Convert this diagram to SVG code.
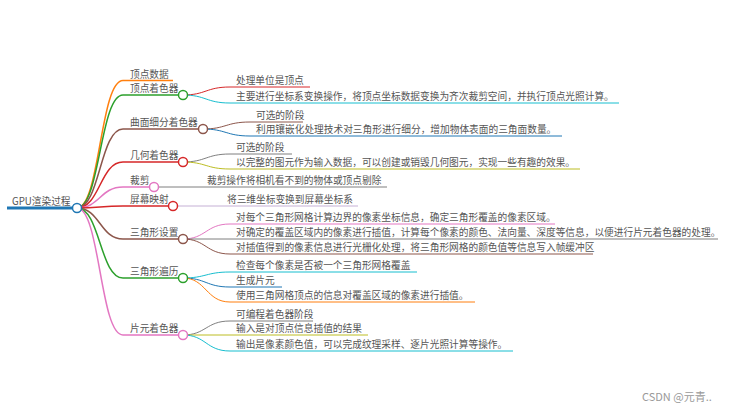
<svg xmlns="http://www.w3.org/2000/svg" width="744" height="412" viewBox="0 0 744 412">
<style>
text{font-family:"Noto Sans CJK SC","Liberation Sans",sans-serif;font-size:9.7px;fill:#555}
.l1{fill:none;stroke-width:1.5}
.l2{fill:none;stroke-width:1}
circle{fill:#fff;stroke-width:1.5}
.wm{font-size:11px;fill:#999}
</style>
<rect width="744" height="412" fill="#fff"/>
<g id="connectors">
<path d="M7,208H77" stroke="#1f77b4" stroke-width="3" fill="none"/>
<path class="l1" stroke="#ff7f0e" d="M77,208C100,208 100,80.5 123,80.5H173"/>
<path class="l1" stroke="#2ca02c" d="M77,208C100,208 100,95 123,95H179"/>
<path class="l1" stroke="#8c564b" d="M77,208C100,208 100,129 123,129H199"/>
<path class="l1" stroke="#d62728" d="M77,208C100,208 100,162 123,162H179"/>
<path class="l1" stroke="#e377c2" d="M77,208C100,208 100,187 123,187H150"/>
<path class="l1" stroke="#d62728" d="M77,208C100,208 100,206 123,206H169"/>
<path class="l1" stroke="#8c564b" d="M77,208C100,208 100,239 123,239H179"/>
<path class="l1" stroke="#2ca02c" d="M77,208C100,208 100,278 123,278H179"/>
<path class="l1" stroke="#e377c2" d="M77,208C100,208 100,335 123,335H179"/>
<path class="l2" stroke="#d62728" d="M183,95C206,95 206,87 230,87H310"/>
<path class="l2" stroke="#17becf" d="M183,95C206,95 206,103 230,103H619"/>
<path class="l2" stroke="#8c564b" d="M203,129C226,129 226,122 250,122H303"/>
<path class="l2" stroke="#1f77b4" d="M203,129C226,129 226,136 250,136H562"/>
<path class="l2" stroke="#7f7f7f" d="M183,162C206,162 206,154 230,154H292"/>
<path class="l2" stroke="#bcbd22" d="M183,162C206,162 206,169 230,169H580"/>
<path class="l2" stroke="#7f7f7f" d="M154,187H387"/>
<path class="l2" stroke="#c5b0d5" stroke-width="1.5" d="M173,206H358"/>
<path class="l2" stroke="#e377c2" d="M183,239C206,239 206,224 230,224H555"/>
<path class="l2" stroke="#7f7f7f" d="M183,239H718"/>
<path class="l2" stroke="#8c564b" d="M183,239C206,239 206,254 230,254H593"/>
<path class="l2" stroke="#17becf" d="M183,278C206,278 206,272 230,272H417"/>
<path class="l2" stroke="#1f77b4" d="M183,278C206,278 206,287 230,287H282"/>
<path class="l2" stroke="#ff7f0e" d="M183,278C206,278 206,302 230,302H475"/>
<path class="l2" stroke="#7f7f7f" d="M183,335C206,335 206,321 230,321H313"/>
<path class="l2" stroke="#bcbd22" d="M183,335H368"/>
<path class="l2" stroke="#17becf" d="M183,335C206,335 206,351 230,351H513"/>
</g>
<g id="root"><text x="12" y="205">GPU渲染过程</text><circle cx="77" cy="208" r="4.5" stroke="#1f77b4"/></g>
<g id="n1"><text x="130" y="77.5">顶点数据</text></g>
<g id="n2"><text x="130" y="92">顶点着色器</text><circle cx="183" cy="95" r="4.5" stroke="#2ca02c"/></g>
<g id="n3"><text x="130" y="126">曲面细分着色器</text><circle cx="203" cy="129" r="4.5" stroke="#8c564b"/></g>
<g id="n4"><text x="130" y="159">几何着色器</text><circle cx="183" cy="162" r="4.5" stroke="#d62728"/></g>
<g id="n5"><text x="130" y="184">裁剪</text><circle cx="154" cy="187" r="4.5" stroke="#e377c2"/></g>
<g id="n6"><text x="130" y="203">屏幕映射</text><circle cx="173" cy="206" r="4.5" stroke="#d62728"/></g>
<g id="n7"><text x="130" y="236">三角形设置</text><circle cx="183" cy="239" r="4.5" stroke="#8c564b"/></g>
<g id="n8"><text x="130" y="275">三角形遍历</text><circle cx="183" cy="278" r="4.5" stroke="#2ca02c"/></g>
<g id="n9"><text x="130" y="332">片元着色器</text><circle cx="183" cy="335" r="4.5" stroke="#e377c2"/></g>
<g id="n2a"><text x="236" y="84">处理单位是顶点</text></g>
<g id="n2b"><text x="236" y="100">主要进行坐标系变换操作，将顶点坐标数据变换为齐次裁剪空间，并执行顶点光照计算。</text></g>
<g id="n3a"><text x="256" y="119">可选的阶段</text></g>
<g id="n3b"><text x="256" y="133">利用镶嵌化处理技术对三角形进行细分，增加物体表面的三角面数量。</text></g>
<g id="n4a"><text x="236" y="151">可选的阶段</text></g>
<g id="n4b"><text x="236" y="166">以完整的图元作为输入数据，可以创建或销毁几何图元，实现一些有趣的效果。</text></g>
<g id="n5a"><text x="207" y="184">裁剪操作将相机看不到的物体或顶点剔除</text></g>
<g id="n6a"><text x="227" y="203">将三维坐标变换到屏幕坐标系</text></g>
<g id="n7a"><text x="236" y="221">对每个三角形网格计算边界的像素坐标信息，确定三角形覆盖的像素区域。</text></g>
<g id="n7b"><text x="236" y="236">对确定的覆盖区域内的像素进行插值，计算每个像素的颜色、法向量、深度等信息，以便进行片元着色器的处理。</text></g>
<g id="n7c"><text x="236" y="251">对插值得到的像素信息进行光栅化处理，将三角形网格的颜色值等信息写入帧缓冲区</text></g>
<g id="n8a"><text x="236" y="269">检查每个像素是否被一个三角形网格覆盖</text></g>
<g id="n8b"><text x="236" y="284">生成片元</text></g>
<g id="n8c"><text x="236" y="299">使用三角网格顶点的信息对覆盖区域的像素进行插值。</text></g>
<g id="n9a"><text x="236" y="318">可编程着色器阶段</text></g>
<g id="n9b"><text x="236" y="332">输入是对顶点信息插值的结果</text></g>
<g id="n9c"><text x="236" y="348">输出是像素颜色值，可以完成纹理采样、逐片光照计算等操作。</text></g>
<text class="wm" x="642" y="401">CSDN @元青..</text>
</svg>
